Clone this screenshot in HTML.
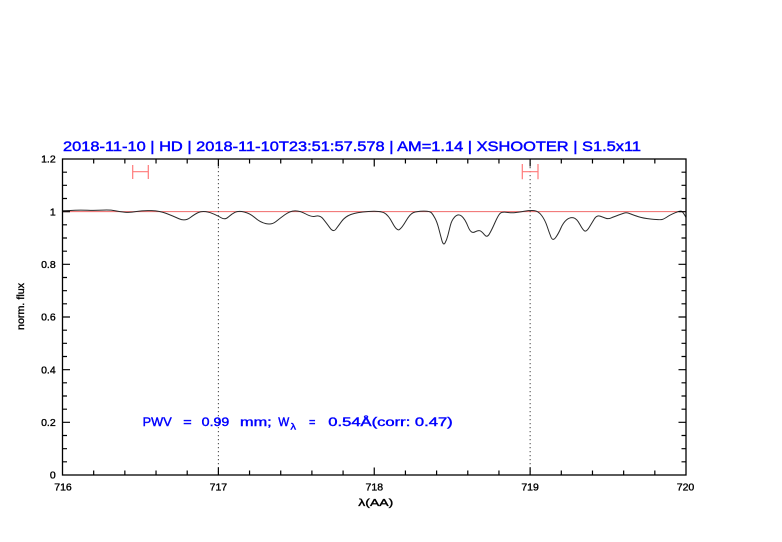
<!DOCTYPE html>
<html>
<head>
<meta charset="utf-8">
<style>
html,body{margin:0;padding:0;background:#fff;}
svg{display:block;}
text{font-family:"Liberation Sans",sans-serif;}
</style>
</head>
<body>
<svg width="782" height="542" viewBox="0 0 782 542" xmlns="http://www.w3.org/2000/svg">
<rect width="782" height="542" fill="#fff"/>

<!-- title -->
<text x="63" y="151" font-size="14" fill="#0000ff" stroke="#0000ff" stroke-width="0.45" textLength="578" lengthAdjust="spacingAndGlyphs">2018-11-10 | HD | 2018-11-10T23:51:57.578 | AM=1.14 | XSHOOTER | S1.5x11</text>

<!-- reference line at 1 -->
<line x1="62.5" y1="211.67" x2="686" y2="211.67" stroke="#f06a6a" stroke-width="1"/>

<!-- dotted verticals -->
<line x1="218.38" y1="159" x2="218.38" y2="475" stroke="#444" stroke-width="1" stroke-dasharray="1.2 2.8"/>
<line x1="530.13" y1="159" x2="530.13" y2="475" stroke="#444" stroke-width="1" stroke-dasharray="1.2 2.8"/>

<!-- error bars -->
<g stroke="#ff7a7a" stroke-width="1.2" fill="none">
<path d="M132.7 171.7H148.3M132.7 165V179M148.3 165V179"/>
<path d="M522.3 171.7H538M522.3 164V179.3M538 164V179.3"/>
</g>

<!-- spectrum (smoothed) -->
<path fill="none" stroke="#2a2a2a" stroke-width="1" stroke-linejoin="round" d="M62.5 210.7L66.25 210.6
Q70 210.5 75 210.25Q80 210 87.5 210.25Q95 210.5 102.5 210.1Q110 209.7 115 210.7Q120 211.7 125 212.2Q130 212.7 136.5 211.5Q143 210.3 151.5 210.65Q160 211 166.5 213.5Q173 216 179 218.75Q185 221.5 190 217.75Q195 214 198.35 212.5Q201.7 211 205.85 211.65Q210 212.3 214.15 214.15Q218.3 216 221.65 218Q225 220 228.35 217Q231.7 214 235 212.35Q238.3 210.7 244.15 212Q250 213.3 255 217.8Q260 222.3 265.85 223.65Q271.7 225 275.85 221.65Q280 218.3 285 214.65Q290 211 295 210.85Q300 210.7 305.85 214Q311.7 217.3 315.85 216.15Q320 215 323.35 219.15Q326.7 223.3 330 227.9Q333.3 232.5 335.8 229.25Q338.3 226 341.65 221.35Q345 216.7 350.85 214.5Q356.7 212.3 368.35 211.5Q380 210.7 384.15 212.85Q388.3 215 392.5 223Q396.7 231 399.2 229.65Q401.7 228.3 405.85 221.15Q410 214 413.35 212.65Q416.7 211.3 423.35 211.15Q430 211 431.65 213Q433.3 215 435.15 218.5Q437 222 438.5 227.65Q440 233.3 441.65 239.65Q443.3 246 445 243Q446.7 240 447.85 235.5Q449 231 450.35 225.5Q451.7 220 455 216.65Q458.3 213.3 461.65 216.15Q465 219 468 226.5Q471 234 474.65 232Q478.3 230 480.15 230.85Q482 231.7 484.5 234.85Q487 238 489.35 234Q491.7 230 495 222.5Q498.3 215 500.15 213.35Q502 211.7 506.85 212.35Q511.7 213 515 212.65Q518.3 212.3 524.15 211.3Q530 210.3 534.15 210.65Q538.3 211 541.65 215.5Q545 220 547 226Q549 232 550.85 236.75Q552.7 241.5 555.5 237.75Q558.3 234 560.8 228.25Q563.3 222.5 566.65 219.75Q570 217 573.35 217.75Q576.7 218.5 580 224.6Q583.3 230.7 585 231.1Q586.7 231.5 589.2 227.4Q591.7 223.3 594.2 219.15Q596.7 215 600 216.15Q603.3 217.3 605.8 218.25Q608.3 219.2 611.15 217.95Q614 216.7 618.65 215Q623.3 213.3 625.15 212.9Q627 212.5 630.15 213.75Q633.3 215 638.15 216.65Q643 218.3 651.5 219.15Q660 220 662 219.5Q664 219 667 217Q670 215 675 212.85Q680 210.7 681.5 211.25Q683 211.8 686 217.5"/>

<!-- frame -->
<rect x="62.5" y="159" width="623.5" height="316" fill="none" stroke="#000" stroke-width="1.3"/>

<!-- ticks -->
<path stroke="#000" stroke-width="1.2" fill="none" d="
M93.68 475v-4.5M124.85 475v-4.5M156.03 475v-4.5M187.2 475v-4.5M218.38 475v-7.5M249.55 475v-4.5M280.73 475v-4.5M311.9 475v-4.5M343.08 475v-4.5M374.25 475v-7.5M405.43 475v-4.5M436.6 475v-4.5M467.78 475v-4.5M498.95 475v-4.5M530.13 475v-7.5M561.3 475v-4.5M592.48 475v-4.5M623.65 475v-4.5M654.83 475v-4.5
M93.68 159v4.5M124.85 159v4.5M156.03 159v4.5M187.2 159v4.5M218.38 159v7.5M249.55 159v4.5M280.73 159v4.5M311.9 159v4.5M343.08 159v4.5M374.25 159v7.5M405.43 159v4.5M436.6 159v4.5M467.78 159v4.5M498.95 159v4.5M530.13 159v7.5M561.3 159v4.5M592.48 159v4.5M623.65 159v4.5M654.83 159v4.5
M62.5 461.83h4.5M62.5 448.67h4.5M62.5 435.5h4.5M62.5 422.33h7.5M62.5 409.17h4.5M62.5 396h4.5M62.5 382.83h4.5M62.5 369.67h7.5M62.5 356.5h4.5M62.5 343.33h4.5M62.5 330.17h4.5M62.5 317h7.5M62.5 303.83h4.5M62.5 290.67h4.5M62.5 277.5h4.5M62.5 264.33h7.5M62.5 251.17h4.5M62.5 238h4.5M62.5 224.83h4.5M62.5 211.67h7.5M62.5 198.5h4.5M62.5 185.33h4.5M62.5 172.17h4.5
M686 461.83h-4.5M686 448.67h-4.5M686 435.5h-4.5M686 422.33h-7.5M686 409.17h-4.5M686 396h-4.5M686 382.83h-4.5M686 369.67h-7.5M686 356.5h-4.5M686 343.33h-4.5M686 330.17h-4.5M686 317h-7.5M686 303.83h-4.5M686 290.67h-4.5M686 277.5h-4.5M686 264.33h-7.5M686 251.17h-4.5M686 238h-4.5M686 224.83h-4.5M686 211.67h-7.5M686 198.5h-4.5M686 185.33h-4.5M686 172.17h-4.5"/>

<!-- x tick labels -->
<g font-size="10.5" fill="#000" stroke="#000" stroke-width="0.35" text-anchor="middle">
<text x="63" y="490.5">716</text>
<text x="218.4" y="490.5">717</text>
<text x="374.3" y="490.5">718</text>
<text x="530.1" y="490.5">719</text>
<text x="685.5" y="490.5">720</text>
</g>

<!-- y tick labels -->
<g font-size="10.5" fill="#000" stroke="#000" stroke-width="0.35" text-anchor="end">
<text x="55.7" y="478.7">0</text>
<text x="55.7" y="426">0.2</text>
<text x="55.7" y="373.4">0.4</text>
<text x="55.7" y="320.7">0.6</text>
<text x="55.7" y="268">0.8</text>
<text x="55.7" y="215.4">1</text>
<text x="55.7" y="162.7">1.2</text>
</g>

<!-- axis labels -->
<text x="375.8" y="506" font-size="10.5" fill="#000" stroke="#000" stroke-width="0.35" text-anchor="middle" textLength="35" lengthAdjust="spacingAndGlyphs">λ(AA)</text>
<text transform="translate(24,306.5) rotate(-90)" font-size="10" fill="#000" stroke="#000" stroke-width="0.35" text-anchor="middle" textLength="47" lengthAdjust="spacingAndGlyphs">norm. flux</text>

<!-- PWV annotation -->
<g fill="#0000ff" stroke="#0000ff" stroke-width="0.4" font-size="11.5">
<text x="142.7" y="426" textLength="29" lengthAdjust="spacingAndGlyphs">PWV</text>
<text x="183.3" y="426" textLength="8.4" lengthAdjust="spacingAndGlyphs">=</text>
<text x="201.7" y="426" textLength="27.6" lengthAdjust="spacingAndGlyphs">0.99</text>
<text x="240" y="426" textLength="31.7" lengthAdjust="spacingAndGlyphs">mm;</text>
<text x="278.3" y="426" textLength="11" lengthAdjust="spacingAndGlyphs">W</text>
<text x="290.5" y="429.5" font-size="9" textLength="5.5" lengthAdjust="spacingAndGlyphs">λ</text>
<text x="309" y="426" textLength="6.4" lengthAdjust="spacingAndGlyphs">=</text>
<text x="328.3" y="426" textLength="124.4" lengthAdjust="spacingAndGlyphs">0.54Å(corr: 0.47)</text>
</g>
</svg>
</body>
</html>
